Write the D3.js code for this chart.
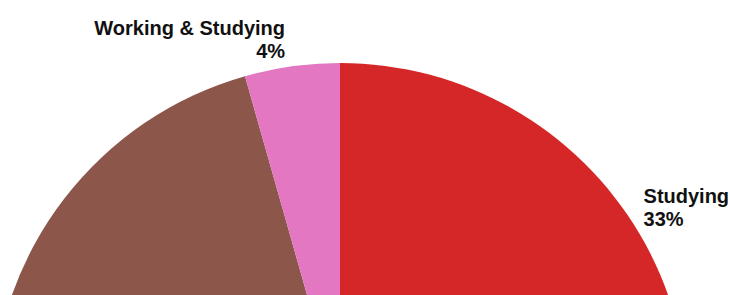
<!DOCTYPE html>
<html>
<head>
<meta charset="utf-8">
<script src="https://cdn.jsdelivr.net/npm/d3@7"></script>
<style>
  body { margin: 0; background: #fff; }
  .lbl { font-family: "Liberation Sans", Arial, sans-serif; font-weight: bold; font-size: 20px; fill: #111; }
</style>
</head>
<body>
<div class="chart"></div>
<script>
// pie data, clockwise from 12 o'clock
let categories = ["Studying", "Neither", "Working", "Working & Studying"];
let values = [33, 22, 40.6, 4.4];
let colors = ["#d62728", "#9467bd", "#8c564b", "#e377c2"];

let outerWidth = 730,
  outerHeight = 295;

let radius = 348;
let cx = 340,
  cy = 411; // centre sits below the visible area

let data = categories.map((c, i) => ({ name: c, value: values[i], color: colors[i] }));

let svg = d3
  .select(".chart")
  .append("svg")
  .attr("width", outerWidth)
  .attr("height", outerHeight);

let g = svg.append("g").attr("transform", "translate(" + cx + "," + cy + ")");

let pie = d3
  .pie()
  .sort(null)
  .value((d) => d.value);

let arc = d3.arc().innerRadius(0).outerRadius(radius);
let labelArc = d3.arc().innerRadius(radius).outerRadius(radius);

let slices = pie(data);

g.selectAll(".slice")
  .data(slices)
  .enter()
  .append("path")
  .attr("class", "slice")
  .attr("d", arc)
  .attr("fill", (d) => d.data.color);

// only labels that land inside the visible window
let shown = slices.filter((d) => cy + labelArc.centroid(d)[1] < outerHeight);

// labels: name on top, percent below
let labels = g
  .selectAll(".lbl")
  .data(shown)
  .enter()
  .append("text")
  .attr("class", "lbl")
  .attr("text-anchor", (d) => ((d.startAngle + d.endAngle) / 2 < Math.PI ? "start" : "end"))
  .attr("transform", (d) => {
    let p = labelArc.centroid(d);
    let right = (d.startAngle + d.endAngle) / 2 < Math.PI;
    return "translate(" + (p[0] + (right ? 4 : -7)) + "," + p[1] + ")";
  });

labels
  .append("tspan")
  .attr("x", 0)
  .attr("y", -31)
  .text((d) => d.data.name);

labels
  .append("tspan")
  .attr("x", 0)
  .attr("y", -8)
  .text((d) => Math.round(d.data.value) + "%");
</script>
</body>
</html>
